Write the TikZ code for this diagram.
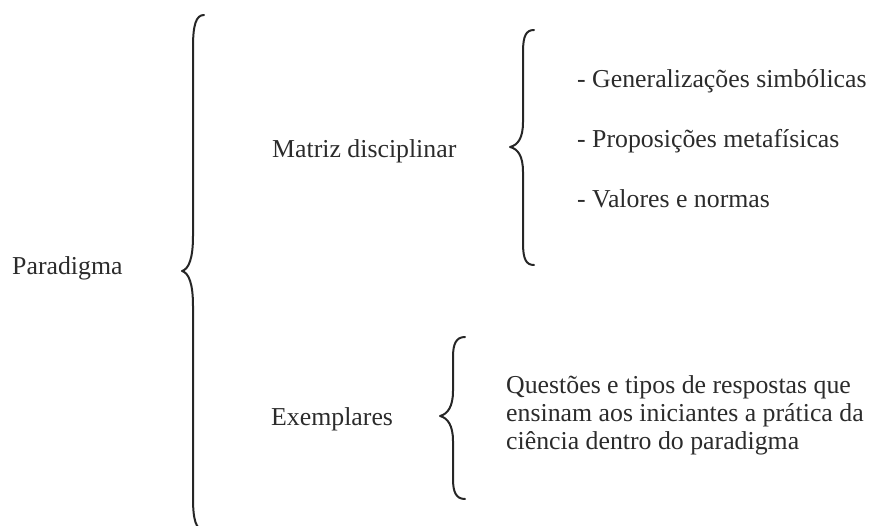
\documentclass[tikz,border=0pt]{standalone}
\usepackage{fontspec}
\setmainfont{Liberation Serif}
\definecolor{inkc}{HTML}{262626}
\definecolor{textc}{HTML}{2B2B2B}
\begin{document}
\begin{tikzpicture}[x=1pt,y=-1pt,
  lbl/.style={inner sep=0pt,anchor=base west,text=textc,font=\fontsize{25.8}{30}\selectfont},
  curly/.style={draw=inkc,line width=2pt,line cap=round,line join=round}]
\useasboundingbox (0,0) rectangle (872,526);
% labels
\node[lbl] (paradigma) at (12,275) {Paradigma};
\node[lbl] (matriz) at (272,158) {Matriz disciplinar};
\node[lbl] (exemplares) at (271,425) {Exemplares};
\node[lbl] (g1) at (577,88) {- Generalizações simbólicas};
\node[lbl] (g2) at (577,148) {- Proposições metafísicas};
\node[lbl] (g3) at (577,208) {- Valores e normas};
\node[lbl] (q1) at (506,393) {Questões e tipos de respostas que};
\node[lbl] (q2) at (506,421) {ensinam aos iniciantes a prática da};
\node[lbl] (q3) at (506,449) {ciência dentro do paradigma};
% braces
\path[curly] (204,15) .. controls (196,15) and (193,25) .. (193,47) -- (193,236)
  .. controls (193,258) and (189,269) .. (182,271)
  .. controls (189,273) and (193,284) .. (193,306) -- (193,498)
  .. controls (193,520) and (196,530) .. (204,530);
\path[curly] (534,30) .. controls (526,30) and (523,36) .. (523,52) -- (523,122)
  .. controls (523,138) and (518,145) .. (510,147)
  .. controls (518,149) and (523,156) .. (523,172) -- (523,243)
  .. controls (523,259) and (526,265) .. (534,265);
\path[curly] (465,337) .. controls (456,337) and (453,344) .. (453,357) -- (453,391)
  .. controls (453,406) and (448,414) .. (440,416)
  .. controls (448,418) and (453,426) .. (453,441) -- (453,479)
  .. controls (453,492) and (456,499) .. (465,499);
\end{tikzpicture}
\end{document}
